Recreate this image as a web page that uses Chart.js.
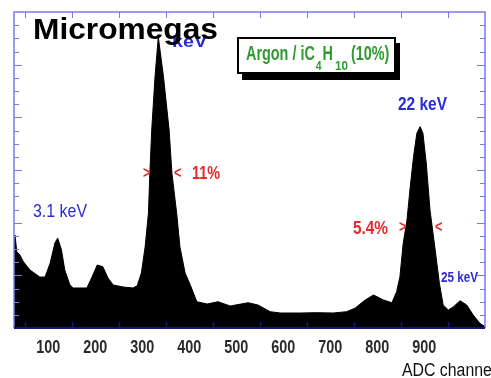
<!DOCTYPE html>
<html>
<head>
<meta charset="utf-8">
<script src="https://cdn.jsdelivr.net/npm/chart.js@4.4.0/dist/chart.umd.min.js"></script>
<style>
  body { margin: 0; background: #fff; }
  canvas { display: block; }
</style>
</head>
<body>
<canvas id="myChart" width="491" height="378"></canvas>
<script>
// spectrum (ADC channel -> counts, arbitrary units)
var channels = [27, 29, 33, 40, 47, 61, 82, 93, 104, 114, 120, 128, 135, 146, 153, 167, 182, 193, 204, 216,
  227, 238, 259, 280, 289, 298, 306, 313, 316, 320, 327, 334, 345, 357, 363, 373, 380, 391, 402, 416,
  438, 461, 487, 525, 546, 572, 593, 636, 671, 706, 735, 753, 774, 792, 813, 831, 841, 848, 855, 863,
  870, 877, 884, 891, 897, 904, 912, 923, 932, 940, 951, 962, 976, 990, 1004, 1018, 1029];
var counts = [1700, 1766, 1450, 1380, 1259, 1101, 968, 968, 1234, 1614, 1709, 1481, 1101, 817, 760, 760, 760, 968, 1196, 1164,
  949, 817, 779, 760, 800, 1044, 1544, 2184, 2938, 3760, 4772, 5526, 4772, 3760, 2938, 2184, 1544, 1044, 817, 499,
  456, 499, 418, 480, 437, 310, 285, 285, 291, 285, 310, 380, 532, 627, 532, 480, 690, 974, 1608, 2051,
  2684, 3254, 3696, 3824, 3696, 3134, 2241, 1481, 849, 437, 342, 404, 518, 437, 247, 89, 25];

var xTickLabels = [100, 200, 300, 400, 500, 600, 700, 800, 900];
var xTickMarks = [50, 150, 250, 350, 450, 550, 650, 750, 850, 950];
var yMajorTicks = [1000, 2000, 3000, 4000, 5000];
var yMinorStep = 250;

var FONT = '"Liberation Sans", Arial, sans-serif';

var points = [];
for (var i = 0; i < channels.length; i++)
  points.push({ x: channels[i], y: counts[i] });

// draw text squeezed horizontally (sx) - no narrow font installed
function txt(ctx, s, x, y, font, color, align, sx) {
  sx = sx || 1;
  ctx.save();
  ctx.font = font;
  ctx.fillStyle = color;
  ctx.textAlign = align || 'left';
  ctx.textBaseline = 'alphabetic';
  ctx.translate(x, y);
  ctx.scale(sx, 1);
  ctx.fillText(s, 0, 0);
  var w = ctx.measureText(s).width * sx;
  ctx.restore();
  return w;
}

// draw text stretched to a given width
function txtFit(ctx, s, x, y, font, color, width) {
  ctx.font = font;
  var w = ctx.measureText(s).width;
  txt(ctx, s, x, y, font, color, 'left', width / w);
}

var decorations = {
  id: 'decorations',
  afterDraw: function(chart) {
    var ctx = chart.ctx;
    var a = chart.chartArea;
    var xs = chart.scales.x, ys = chart.scales.y;
    ctx.save();

    // frame
    ctx.strokeStyle = '#7a7aee';
    ctx.lineWidth = 1.5;
    ctx.beginPath();
    ctx.moveTo(a.left, a.bottom);
    ctx.lineTo(a.left, a.top);
    ctx.lineTo(a.right, a.top);
    ctx.lineTo(a.right, a.bottom);
    ctx.stroke();

    // y ticks both sides
    ctx.lineWidth = 1;
    for (var v = yMinorStep; v < ys.max; v += yMinorStep) {
      var py = Math.round(ys.getPixelForValue(v)) + 0.5;
      var len = yMajorTicks.indexOf(v) >= 0 ? 8 : 5;
      ctx.beginPath();
      ctx.moveTo(a.left, py); ctx.lineTo(a.left + len, py);
      ctx.moveTo(a.right, py); ctx.lineTo(a.right - len, py);
      ctx.stroke();
    }
    // top ticks
    xTickMarks.forEach(function(c) {
      var px = Math.round(xs.getPixelForValue(c)) + 0.5;
      ctx.beginPath();
      ctx.moveTo(px, a.top); ctx.lineTo(px, a.top + 6);
      ctx.stroke();
    });

    // bottom axis
    ctx.strokeStyle = '#15157a';
    ctx.lineWidth = 2;
    ctx.beginPath();
    ctx.moveTo(a.left, a.bottom); ctx.lineTo(a.right, a.bottom);
    ctx.stroke();
    ctx.lineWidth = 1.5;
    xTickMarks.forEach(function(c) {
      var px = Math.round(xs.getPixelForValue(c)) + 0.5;
      ctx.beginPath();
      ctx.moveTo(px, a.bottom); ctx.lineTo(px, a.bottom - 6);
      ctx.stroke();
    });

    // x tick labels
    xTickLabels.forEach(function(c) {
      txt(ctx, String(c), xs.getPixelForValue(c), 353, 'bold 18px ' + FONT, '#2a2a2a', 'center', 0.8);
    });

    // peak labels
    var blue = '#2b2bd6', red = '#e42a2a';
    txtFit(ctx, 'keV', 172, 47, 'bold 17px ' + FONT, blue, 35);
    txtFit(ctx, '22 keV', 398, 110, 'bold 18px ' + FONT, blue, 49);
    txtFit(ctx, '3.1 keV', 33, 217, '19px ' + FONT, blue, 54);
    txtFit(ctx, '25 keV', 441, 282, 'bold 14px ' + FONT, blue, 37);

    // resolution markers
    txt(ctx, '>', 143, 178, 'bold 16px ' + FONT, red, 'left', 0.8);
    txt(ctx, '<', 174, 178, 'bold 16px ' + FONT, red, 'left', 0.8);
    txtFit(ctx, '11%', 192, 179, 'bold 18px ' + FONT, red, 28);
    txtFit(ctx, '5.4%', 353, 234, 'bold 19px ' + FONT, red, 35);
    txt(ctx, '>', 399, 232, 'bold 16px ' + FONT, red, 'left', 0.8);
    txt(ctx, '<', 435, 232, 'bold 16px ' + FONT, red, 'left', 0.8);

    // gas box with shadow
    ctx.fillStyle = '#000';
    ctx.fillRect(242, 43, 158, 37);
    ctx.fillStyle = '#fff';
    ctx.fillRect(238, 38, 157, 35);
    ctx.strokeStyle = '#000';
    ctx.lineWidth = 2;
    ctx.strokeRect(238, 38, 157, 35);
    var green = '#2f9a2f';
    var gx = 246;
    gx += txt(ctx, 'Argon / iC', gx, 60, 'bold 20px ' + FONT, green, 'left', 0.72) + 1;
    gx += txt(ctx, '4', gx, 70, 'bold 13px ' + FONT, green, 'left', 0.8) + 1;
    gx += txt(ctx, 'H', gx, 60, 'bold 20px ' + FONT, green, 'left', 0.72) + 2;
    gx += txt(ctx, '10', gx, 70, 'bold 13px ' + FONT, green, 'left', 0.9) + 3;
    txt(ctx, '(10%)', gx, 60, 'bold 20px ' + FONT, green, 'left', 0.72);

    // title and axis title
    txtFit(ctx, 'Micromegas', 33, 39, 'bold 30px ' + FONT, '#000', 185);
    txt(ctx, 'ADC channel', 402, 376, '18px ' + FONT, '#111', 'left', 0.88);

    ctx.restore();
  }
};

var ctx = document.getElementById('myChart').getContext('2d');
var spectrumChart = new Chart(ctx, {
  type: 'line',
  data: {
    datasets: [{
      data: points,
      borderColor: '#000',
      backgroundColor: '#000',
      borderWidth: 1,
      pointRadius: 0,
      tension: 0,
      fill: 'origin'
    }]
  },
  options: {
    responsive: false,
    animation: false,
    layout: { padding: { left: 14, right: 6, top: 12, bottom: 50 } },
    plugins: { legend: { display: false }, tooltip: { enabled: false } },
    scales: {
      x: {
        type: 'linear',
        display: false,
        min: 27,
        max: 1029
      },
      y: {
        display: false,
        min: 0,
        max: 6000
      }
    }
  },
  plugins: [decorations]
});
</script>
</body>
</html>
